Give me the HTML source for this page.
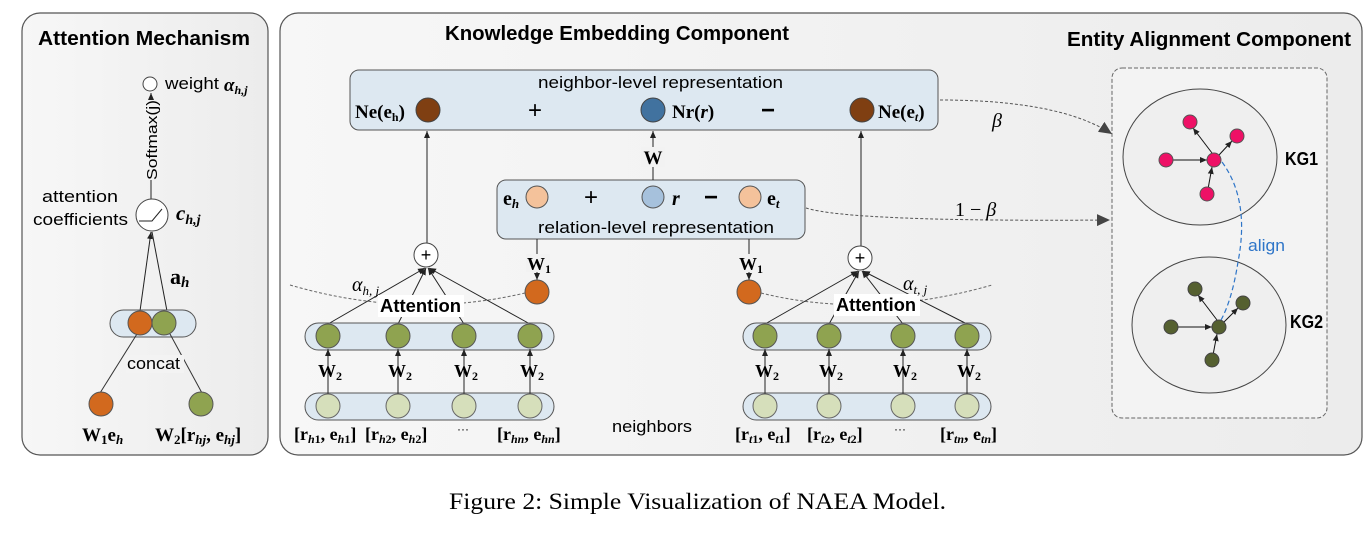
<!DOCTYPE html>
<html><head><meta charset="utf-8"><style>
html,body{margin:0;padding:0;background:#fff;}
svg{display:block;}
.s{font-family:"Liberation Sans",sans-serif;}
.r{font-family:"Liberation Serif",serif;}
</style></head><body>
<svg width="1370" height="533" viewBox="0 0 1370 533" xmlns="http://www.w3.org/2000/svg">
<defs>
<marker id="a" markerWidth="8" markerHeight="8" refX="7" refY="4" orient="auto" markerUnits="userSpaceOnUse"><path d="M0,1 L7,4 L0,7z" fill="#222"/></marker>
<marker id="b" markerWidth="14" markerHeight="12" refX="13" refY="6" orient="auto" markerUnits="userSpaceOnUse"><path d="M0,0 L13,6 L0,12z" fill="#444"/></marker>
<linearGradient id="g" x1="0" y1="0" x2="1" y2="0"><stop offset="0" stop-color="#f7f7f7"/><stop offset="1" stop-color="#ececec"/></linearGradient>
</defs>
<!-- left panel -->
<rect x="22" y="13" width="246" height="442" rx="18" fill="url(#g)" stroke="#555" stroke-width="1.2"/>
<text x="38" y="45" class="s" font-size="20" font-weight="bold" textLength="212" lengthAdjust="spacingAndGlyphs">Attention Mechanism</text>
<circle cx="150" cy="84" r="7" fill="#fff" stroke="#444"/>
<text x="165" y="89" class="s" font-size="17" textLength="54" lengthAdjust="spacingAndGlyphs">weight</text>
<text x="224" y="91" class="r" font-size="19" font-style="italic" font-weight="bold">α<tspan font-size="12" dy="3">h,j</tspan></text>
<line x1="151" y1="199" x2="151" y2="93" stroke="#222" marker-end="url(#a)"/>
<rect x="143" y="100" width="17" height="80" fill="#f3f3f3"/>
<text transform="translate(157,180) rotate(-90)" class="s" font-size="15" textLength="80" lengthAdjust="spacingAndGlyphs">Softmax(j)</text>
<circle cx="152" cy="215" r="16" fill="#fff" stroke="#444"/>
<path d="M139,221 L152,221 L162,209" stroke="#222" fill="none"/>
<text x="42" y="202" class="s" font-size="17" textLength="76" lengthAdjust="spacingAndGlyphs">attention</text>
<text x="33" y="225" class="s" font-size="17" textLength="95" lengthAdjust="spacingAndGlyphs">coefficients</text>
<text x="176" y="220" class="r" font-size="21" font-style="italic" font-weight="bold">c<tspan font-size="14" dy="4">h,j</tspan></text>
<line x1="140" y1="311" x2="151" y2="232" stroke="#222" marker-end="url(#a)"/>
<line x1="167" y1="311" x2="152" y2="232" stroke="#222"/>
<text x="170" y="284" class="r" font-size="22" font-weight="bold">a<tspan font-size="15" font-style="italic" dy="3">h</tspan></text>
<rect x="110" y="310" width="86" height="27" rx="13.5" fill="#dde8f1" stroke="#555"/>
<line x1="100" y1="393" x2="137" y2="334" stroke="#333"/>
<line x1="202" y1="393" x2="170" y2="334" stroke="#333"/>
<circle cx="140" cy="323" r="12" fill="#d2691e" stroke="#555"/>
<circle cx="164" cy="323" r="12" fill="#8fa350" stroke="#555"/>
<rect x="126" y="355" width="58" height="18" fill="#f3f3f3"/>
<text x="127" y="369" class="s" font-size="17" textLength="53" lengthAdjust="spacingAndGlyphs">concat</text>
<circle cx="101" cy="404" r="12" fill="#d2691e" stroke="#555"/>
<circle cx="201" cy="404" r="12" fill="#8fa350" stroke="#555"/>
<text x="82" y="441" class="r" font-size="19" font-weight="bold">W<tspan font-size="13" dy="3">1</tspan><tspan dy="-3">e</tspan><tspan font-size="13" font-style="italic" dy="3">h</tspan></text>
<text x="155" y="441" class="r" font-size="19" font-weight="bold">W<tspan font-size="13" dy="3">2</tspan><tspan dy="-3">[r</tspan><tspan font-size="13" font-style="italic" dy="3">hj</tspan><tspan dy="-3">, e</tspan><tspan font-size="13" font-style="italic" dy="3">hj</tspan><tspan dy="-3">]</tspan></text>

<!-- main panel -->
<rect x="280" y="13" width="1082" height="442" rx="18" fill="url(#g)" stroke="#555" stroke-width="1.2"/>
<text x="445" y="40" class="s" font-size="20" font-weight="bold" textLength="344" lengthAdjust="spacingAndGlyphs">Knowledge Embedding Component</text>
<text x="1067" y="46" class="s" font-size="20" font-weight="bold" textLength="284" lengthAdjust="spacingAndGlyphs">Entity Alignment Component</text>

<!-- neighbor box -->
<rect x="350" y="70" width="588" height="60" rx="9" fill="#dde8f1" stroke="#555"/>
<text x="538" y="88" class="s" font-size="17" textLength="245" lengthAdjust="spacingAndGlyphs">neighbor-level representation</text>
<text x="355" y="118" class="r" font-size="19" font-weight="bold">Ne(e<tspan font-size="12" dy="3">h</tspan><tspan dy="-3">)</tspan></text>
<circle cx="428" cy="110" r="12" fill="#7f3f12" stroke="#444"/>
<text x="535" y="118" class="s" font-size="24" text-anchor="middle">+</text>
<circle cx="653" cy="110" r="12" fill="#41729f" stroke="#444"/>
<text x="672" y="118" class="r" font-size="19" font-weight="bold">Nr(<tspan font-style="italic">r</tspan>)</text>
<text x="768" y="118" class="s" font-size="24" font-weight="bold" text-anchor="middle">−</text>
<circle cx="862" cy="110" r="12" fill="#7f3f12" stroke="#444"/>
<text x="878" y="118" class="r" font-size="19" font-weight="bold">Ne(e<tspan font-size="12" font-style="italic" dy="3">t</tspan><tspan dy="-3">)</tspan></text>

<!-- relation box -->
<rect x="497" y="180" width="308" height="59" rx="9" fill="#dde8f1" stroke="#555"/>
<text x="503" y="205" class="r" font-size="20" font-weight="bold">e<tspan font-size="13" font-style="italic" dy="3">h</tspan></text>
<circle cx="537" cy="197" r="11" fill="#f4c29b" stroke="#555"/>
<text x="591" y="205" class="s" font-size="24" text-anchor="middle">+</text>
<circle cx="653" cy="197" r="11" fill="#a6c1dc" stroke="#555"/>
<text x="672" y="205" class="r" font-size="20" font-weight="bold" font-style="italic">r</text>
<text x="711" y="205" class="s" font-size="24" font-weight="bold" text-anchor="middle">−</text>
<circle cx="750" cy="197" r="11" fill="#f4c29b" stroke="#555"/>
<text x="767" y="205" class="r" font-size="20" font-weight="bold">e<tspan font-size="13" font-style="italic" dy="3">t</tspan></text>
<text x="538" y="233" class="s" font-size="17" textLength="236" lengthAdjust="spacingAndGlyphs">relation-level representation</text>

<line x1="653" y1="180" x2="653" y2="131" stroke="#222" marker-end="url(#a)"/>
<rect x="641" y="147" width="24" height="20" fill="#f2f2f2"/>
<text x="653" y="164" class="r" font-size="19" font-weight="bold" text-anchor="middle">W</text>
<line x1="427" y1="243" x2="427" y2="131" stroke="#222" marker-end="url(#a)"/>
<line x1="861" y1="246" x2="861" y2="131" stroke="#222" marker-end="url(#a)"/>

<!-- W1 -->
<line x1="537" y1="239" x2="537" y2="280" stroke="#222" marker-end="url(#a)"/>
<rect x="526" y="254" width="24" height="18" fill="#f2f2f2"/>
<text x="527" y="270" class="r" font-size="18" font-weight="bold">W<tspan font-size="12" dy="3">1</tspan></text>
<circle cx="537" cy="292" r="12" fill="#d2691e" stroke="#555"/>
<line x1="749" y1="239" x2="749" y2="280" stroke="#222" marker-end="url(#a)"/>
<rect x="738" y="254" width="24" height="18" fill="#f2f2f2"/>
<text x="739" y="270" class="r" font-size="18" font-weight="bold">W<tspan font-size="12" dy="3">1</tspan></text>
<circle cx="749" cy="292" r="12" fill="#d2691e" stroke="#555"/>

<!-- dashed attention arcs -->
<path d="M290,285 Q410,320 525,293" stroke="#666" stroke-dasharray="3,2" fill="none"/>
<path d="M761,293 Q870,320 992,285" stroke="#666" stroke-dasharray="3,2" fill="none"/>

<g stroke="#222">
<line x1="328" y1="324" x2="425" y2="268" marker-end="url(#a)"/>
<line x1="398" y1="324" x2="426" y2="268" marker-end="url(#a)"/>
<line x1="464" y1="324" x2="428" y2="268" marker-end="url(#a)"/>
<line x1="530" y1="324" x2="429" y2="268" marker-end="url(#a)"/>
<line x1="765" y1="324" x2="858" y2="271" marker-end="url(#a)"/>
<line x1="829" y1="324" x2="859" y2="271" marker-end="url(#a)"/>
<line x1="903" y1="324" x2="862" y2="271" marker-end="url(#a)"/>
<line x1="967" y1="324" x2="863" y2="271" marker-end="url(#a)"/>
</g>
<circle cx="426" cy="255" r="12" fill="#fff" stroke="#444"/>
<text x="426" y="261" class="s" font-size="18" text-anchor="middle">+</text>
<circle cx="860" cy="258" r="12" fill="#fff" stroke="#444"/>
<text x="860" y="264" class="s" font-size="18" text-anchor="middle">+</text>
<rect x="378" y="295" width="86" height="22" fill="#fff"/>
<text x="380" y="312" class="s" font-size="18" font-weight="bold" textLength="81" lengthAdjust="spacingAndGlyphs">Attention</text>
<rect x="834" y="294" width="86" height="22" fill="#fff"/>
<text x="836" y="311" class="s" font-size="18" font-weight="bold" textLength="80" lengthAdjust="spacingAndGlyphs">Attention</text>
<text x="352" y="291" class="r" font-size="20" font-style="italic">α<tspan font-size="13" dy="4">h, j</tspan></text>
<text x="903" y="290" class="r" font-size="20" font-style="italic">α<tspan font-size="13" dy="4">t, j</tspan></text>

<rect x="305" y="323" width="249" height="27" rx="13.5" fill="#dde8f1" stroke="#555"/>
<rect x="305" y="393" width="249" height="27" rx="13.5" fill="#dde8f1" stroke="#555"/>
<rect x="743" y="323" width="248" height="27" rx="13.5" fill="#dde8f1" stroke="#555"/>
<rect x="743" y="393" width="248" height="27" rx="13.5" fill="#dde8f1" stroke="#555"/>
<g stroke="#222">
<line x1="328" y1="395" x2="328" y2="349" marker-end="url(#a)"/>
<line x1="398" y1="395" x2="398" y2="349" marker-end="url(#a)"/>
<line x1="464" y1="395" x2="464" y2="349" marker-end="url(#a)"/>
<line x1="530" y1="395" x2="530" y2="349" marker-end="url(#a)"/>
<line x1="765" y1="395" x2="765" y2="349" marker-end="url(#a)"/>
<line x1="829" y1="395" x2="829" y2="349" marker-end="url(#a)"/>
<line x1="903" y1="395" x2="903" y2="349" marker-end="url(#a)"/>
<line x1="967" y1="395" x2="967" y2="349" marker-end="url(#a)"/>
</g>
<g fill="#8fa350" stroke="#555">
<circle cx="328" cy="336" r="12"/><circle cx="398" cy="336" r="12"/><circle cx="464" cy="336" r="12"/><circle cx="530" cy="336" r="12"/>
<circle cx="765" cy="336" r="12"/><circle cx="829" cy="336" r="12"/><circle cx="903" cy="336" r="12"/><circle cx="967" cy="336" r="12"/>
</g>
<g fill="#d6dfbb" stroke="#666">
<circle cx="328" cy="406" r="12"/><circle cx="398" cy="406" r="12"/><circle cx="464" cy="406" r="12"/><circle cx="530" cy="406" r="12"/>
<circle cx="765" cy="406" r="12"/><circle cx="829" cy="406" r="12"/><circle cx="903" cy="406" r="12"/><circle cx="967" cy="406" r="12"/>
</g>
<g class="r" font-size="18" font-weight="bold" text-anchor="middle">
<text x="330" y="377">W<tspan font-size="12" dy="3">2</tspan></text>
<text x="400" y="377">W<tspan font-size="12" dy="3">2</tspan></text>
<text x="466" y="377">W<tspan font-size="12" dy="3">2</tspan></text>
<text x="532" y="377">W<tspan font-size="12" dy="3">2</tspan></text>
<text x="767" y="377">W<tspan font-size="12" dy="3">2</tspan></text>
<text x="831" y="377">W<tspan font-size="12" dy="3">2</tspan></text>
<text x="905" y="377">W<tspan font-size="12" dy="3">2</tspan></text>
<text x="969" y="377">W<tspan font-size="12" dy="3">2</tspan></text>
</g>
<g class="r" font-size="18" font-weight="bold">
<text x="294" y="440">[r<tspan font-size="12" font-style="italic" dy="3">h</tspan><tspan font-size="12">1</tspan><tspan dy="-3">, e</tspan><tspan font-size="12" font-style="italic" dy="3">h</tspan><tspan font-size="12">1</tspan><tspan dy="-3">]</tspan></text>
<text x="365" y="440">[r<tspan font-size="12" font-style="italic" dy="3">h</tspan><tspan font-size="12">2</tspan><tspan dy="-3">, e</tspan><tspan font-size="12" font-style="italic" dy="3">h</tspan><tspan font-size="12">2</tspan><tspan dy="-3">]</tspan></text>
<text x="497" y="440">[r<tspan font-size="12" font-style="italic" dy="3">hn</tspan><tspan dy="-3">, e</tspan><tspan font-size="12" font-style="italic" dy="3">hn</tspan><tspan dy="-3">]</tspan></text>
<text x="735" y="440">[r<tspan font-size="12" font-style="italic" dy="3">t</tspan><tspan font-size="12">1</tspan><tspan dy="-3">, e</tspan><tspan font-size="12" font-style="italic" dy="3">t</tspan><tspan font-size="12">1</tspan><tspan dy="-3">]</tspan></text>
<text x="807" y="440">[r<tspan font-size="12" font-style="italic" dy="3">t</tspan><tspan font-size="12">2</tspan><tspan dy="-3">, e</tspan><tspan font-size="12" font-style="italic" dy="3">t</tspan><tspan font-size="12">2</tspan><tspan dy="-3">]</tspan></text>
<text x="940" y="440">[r<tspan font-size="12" font-style="italic" dy="3">tn</tspan><tspan dy="-3">, e</tspan><tspan font-size="12" font-style="italic" dy="3">tn</tspan><tspan dy="-3">]</tspan></text>
</g>
<text x="463" y="433" class="s" font-size="12" text-anchor="middle">···</text>
<text x="900" y="433" class="s" font-size="12" text-anchor="middle">···</text>
<text x="612" y="432" class="s" font-size="17" textLength="80" lengthAdjust="spacingAndGlyphs">neighbors</text>

<path d="M940,100 Q1060,100 1112,134" stroke="#555" stroke-dasharray="3,2" fill="none" marker-end="url(#b)"/>
<text x="992" y="127" class="r" font-size="20" font-style="italic">β</text>
<path d="M806,208 Q850,222 1110,220" stroke="#555" stroke-dasharray="3,2" fill="none" marker-end="url(#b)"/>
<text x="955" y="216" class="r" font-size="20">1 − <tspan font-style="italic">β</tspan></text>

<rect x="1112" y="68" width="215" height="350" rx="10" fill="#f3f3f3" stroke="#666" stroke-dasharray="4,2"/>
<ellipse cx="1200" cy="157" rx="77" ry="68" fill="#efefef" stroke="#444"/>
<ellipse cx="1209" cy="325" rx="77" ry="68" fill="#efefef" stroke="#444"/>
<g stroke="#111">
<line x1="1172" y1="160" x2="1207" y2="160" marker-end="url(#a)"/>
<line x1="1212" y1="153" x2="1193" y2="128" marker-end="url(#a)"/>
<line x1="1219" y1="155" x2="1232" y2="141" marker-end="url(#a)"/>
<line x1="1208" y1="189" x2="1212" y2="167" marker-end="url(#a)"/>
<line x1="1177" y1="327" x2="1212" y2="327" marker-end="url(#a)"/>
<line x1="1217" y1="320" x2="1198" y2="295" marker-end="url(#a)"/>
<line x1="1224" y1="322" x2="1238" y2="308" marker-end="url(#a)"/>
<line x1="1213" y1="355" x2="1217" y2="334" marker-end="url(#a)"/>
</g>
<g fill="#ee1166" stroke="#555">
<circle cx="1214" cy="160" r="7"/><circle cx="1190" cy="122" r="7"/><circle cx="1237" cy="136" r="7"/><circle cx="1166" cy="160" r="7"/><circle cx="1207" cy="194" r="7"/>
</g>
<g fill="#556030" stroke="#444">
<circle cx="1219" cy="327" r="7"/><circle cx="1195" cy="289" r="7"/><circle cx="1243" cy="303" r="7"/><circle cx="1171" cy="327" r="7"/><circle cx="1212" cy="360" r="7"/>
</g>
<path d="M1222,162 Q1250,200 1238,262 Q1232,300 1221,320" stroke="#2e75c8" stroke-width="1.2" stroke-dasharray="5,3" fill="none"/>
<text x="1248" y="251" class="s" font-size="17" fill="#2e75c8" textLength="37" lengthAdjust="spacingAndGlyphs">align</text>
<text x="1285" y="165" class="s" font-size="18" font-weight="bold" textLength="33" lengthAdjust="spacingAndGlyphs">KG1</text>
<text x="1290" y="328" class="s" font-size="18" font-weight="bold" textLength="33" lengthAdjust="spacingAndGlyphs">KG2</text>

<text x="449" y="509" class="r" font-size="23" textLength="497" lengthAdjust="spacingAndGlyphs">Figure 2: Simple Visualization of NAEA Model.</text>
</svg>
</body></html>
